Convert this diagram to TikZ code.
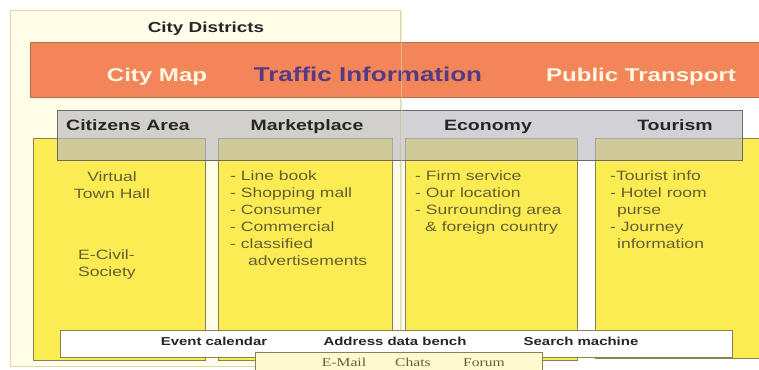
\documentclass[tikz,border=0pt]{standalone}
\usepackage{fontspec}
\setmainfont{Liberation Sans}[FakeStretch=1.3]
\newfontfamily\mailfont{Liberation Serif}[FakeStretch=1.3]
\usetikzlibrary{positioning}

\definecolor{creambg}{RGB}{255,253,232}
\definecolor{creamline}{RGB}{222,218,168}
\definecolor{mapfill}{RGB}{243,134,88}
\definecolor{mapline}{RGB}{186,108,78}
\definecolor{areafill}{RGB}{252,236,84}
\definecolor{arealine}{RGB}{140,130,80}
\definecolor{headfill}{RGB}{185,185,192}
\definecolor{headline}{RGB}{105,105,105}
\definecolor{itemtext}{RGB}{100,95,50}
\definecolor{traffic}{RGB}{88,58,132}
\definecolor{paletext}{RGB}{255,246,228}
\definecolor{mailfill}{RGB}{255,250,208}

\tikzset{
  box/.style={anchor=north west, inner sep=0pt, line width=0.8pt},
  area/.style={box, fill=areafill, draw=arealine, minimum width=172pt, minimum height=222pt},
  head/.style={anchor=base, inner sep=0pt, font=\fontsize{15}{18}\selectfont\bfseries, text=black!85},
  maptext/.style={anchor=base, inner sep=0pt, font=\fontsize{18.5}{22}\selectfont\bfseries, text=paletext},
  item/.style={anchor=north west, inner sep=0pt, align=left, text=itemtext,
    font=\fontsize{13.5}{17}\selectfont},
  service/.style={anchor=base, inner sep=0pt, font=\fontsize{11.5}{14}\selectfont\bfseries, text=black!85},
  mail/.style={anchor=base, inner sep=0pt, text=itemtext, font=\mailfont\fontsize{12}{14}\selectfont},
}

\begin{document}
\begin{tikzpicture}[x=1pt, y=-1pt]
    \useasboundingbox (0,0) rectangle (759,369);
    % --- OUTER FRAME ---
    \node[box, fill=creambg, draw=creamline, minimum width=390pt, minimum height=356pt] (districts) at (10,10) {};
    \node[head, font=\fontsize{14.5}{18}\selectfont\bfseries] (districtslabel) at (206,33) {City Districts};

    % --- MAP BAR ---
    \node[box, fill=mapfill, draw=mapline, minimum width=740pt, minimum height=55pt] (mapbar) at (30,42) {};
    \node[maptext] (citymap) at (157,81) {City Map};
    \node[maptext, text=traffic, font=\fontsize{20}{24}\selectfont\bfseries] (trafficinfo) at (368,81) {Traffic Information};
    \node[maptext] (transport) at (641,81) {Public Transport};

    % --- AREA COLUMNS ---
    \node[area] (citizens) at (33,138) {};
    \node[area, minimum width=174pt] (market) at (218,138) {};
    \node[area] (economy) at (405,138) {};
    \node[area, minimum width=175pt, minimum height=220pt] (tourism) at (595,138) {};

    % header band (see-through)
    \node[box, fill=headfill, fill opacity=0.65, draw=headline, minimum width=685pt, minimum height=50pt] (headbar) at (57,110) {};
    \node[head] (citizenshead) at (128,130) {Citizens Area};
    \node[head] (markethead) at (307,130) {Marketplace};
    \node[head] (economyhead) at (488,130) {Economy};
    \node[head] (tourismhead) at (675,130) {Tourism};

    % faint frame edge over the bars
    \draw[creamline, opacity=0.6] (districts.north east) -- (districts.south east);

    % --- COLUMN TEXTS ---
    \node[item, anchor=center, align=center] (townhall) at (112,185) {Virtual\\Town Hall};
    \node[item, anchor=west] (civil) at (78,265) {E-Civil-\\Society};
    \node[item] (marketitems) at (230,171) {- Line book\\- Shopping mall\\- Consumer\\- Commercial\\- classified\\\hspace{18pt}advertisements};
    \node[item] (economyitems) at (415,171) {- Firm service\\- Our location\\- Surrounding area\\\hspace{10pt}\& foreign country};
    \node[item] (tourismitems) at (610,171) {-Tourist info\\- Hotel room\\\hspace{7pt}purse\\- Journey\\\hspace{7pt}information};

    % --- SERVICE BARS ---
    \node[box, fill=white, draw=arealine, minimum width=672pt, minimum height=27pt] (servicebar) at (60,330) {};
    \node[service] (calendar) at (214,345.5) {Event calendar};
    \node[service] (address) at (395,345.5) {Address data bench};
    \node[service] (search) at (581,345.5) {Search machine};

    \node[box, fill=mailfill, draw=arealine, minimum width=287pt, minimum height=22pt] (mailbar) at (255,352) {};
    \node[mail] (email) at (344,366) {E-Mail};
    \node[mail] (chats) at (413,366) {Chats};
    \node[mail] (forum) at (484,366) {Forum};
\end{tikzpicture}
\end{document}
